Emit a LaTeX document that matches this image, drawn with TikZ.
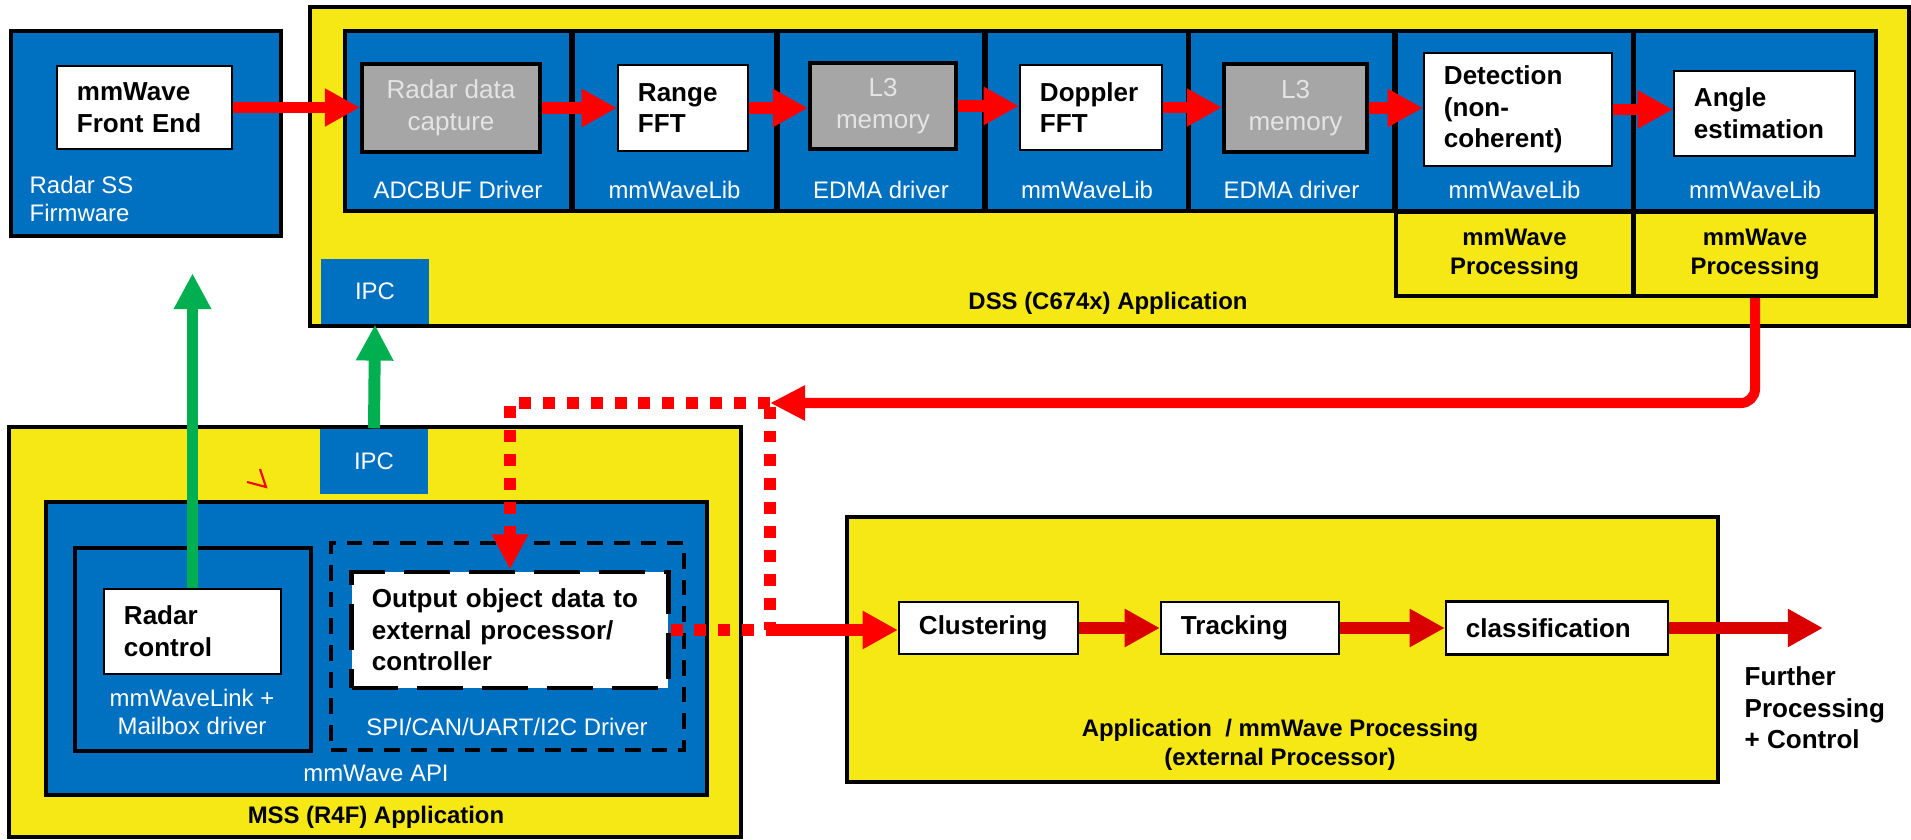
\documentclass[tikz,border=0pt]{standalone}
\usepackage{fontspec}
\setmainfont{Liberation Sans}
\usepackage{tikz}
\usetikzlibrary{arrows.meta,positioning}

\definecolor{tiblue}{RGB}{0,112,192}
\definecolor{tiyellow}{RGB}{246,232,20}
\definecolor{tigray}{RGB}{166,166,166}
\definecolor{capgray}{RGB}{228,228,228}
\definecolor{tigreen}{RGB}{0,176,80}
\definecolor{tired}{RGB}{255,0,0}
\definecolor{tidarkred}{RGB}{218,0,0}

\newcommand{\bxfont}{\bfseries\fontsize{7.4}{9}\selectfont}
\newcommand{\cpfont}{\fontsize{7.4}{9.1}\selectfont}
\newcommand{\lbfont}{\fontsize{6.8}{8.2}\selectfont}
\newcommand{\ttlfont}{\bfseries\fontsize{6.8}{8.2}\selectfont}

\begin{document}
\begin{tikzpicture}[x=0.01cm,y=-0.01cm,
  every node/.style={inner sep=0pt},
  bigbox/.style={draw,fill=tiyellow,line width=1.14pt},
  bluebox/.style={draw,fill=tiblue,line width=1.14pt},
  ipcbox/.style={fill=tiblue,text=white,font=\lbfont,minimum width=1.08cm,minimum height=0.65cm},
  wbox/.style={draw,fill=white,line width=0.6pt,align=left,inner xsep=0.2cm,font=\bxfont},
  gbox/.style={draw,fill=tigray,line width=1.14pt,align=center,text=capgray,font=\cpfont},
  procbox/.style={draw,fill=tiyellow,line width=1.14pt,align=center,font=\ttlfont},
  drvbox/.style={draw,dash pattern=on 4.5pt off 3.1pt,line width=1.14pt},
  lbl/.style={text=white,align=center,font=\lbfont},
  ttl/.style={align=center,font=\ttlfont},
  flow/.style={draw=tired,line width=3.4pt,-{Triangle[width=10.2pt,length=10pt]}},
  gflow/.style={draw=tigreen,line width=3.4pt,-{Triangle[width=10pt,length=10.2pt]}},
  fback/.style={draw=tired,line width=2.85pt,rounded corners=4pt,-{Triangle[width=9.4pt,length=10pt]}},
  dots/.style={draw=tired,line width=3.4pt,dash pattern=on 3.4pt off 3.4pt}]

  \useasboundingbox (0,0) rectangle (1911,840);

  % Radar sub-system
  \node[bluebox,minimum width=2.70cm,minimum height=2.05cm] (rss) at (146,133.5) {};
  \node[wbox,text width=1.35cm,minimum height=0.83cm] (fe) at (144.5,107.5) {mmWave\\Front End};
  \node[lbl,anchor=west,align=left] (rssL) at (29,199) {Radar SS\\Firmware};

  % DSS
  \node[bigbox,minimum width=15.99cm,minimum height=3.19cm] (dss) at (1109.5,166.5) {};
  \node[ipcbox] (ipcd) at (375,291.5) {IPC};
  \foreach \n/\x/\w/\lab in {adc/458/2.26/ADCBUF Driver, rngB/674.5/2.03/mmWaveLib,
      l3aB/881/2.06/EDMA driver, dopB/1087/2.02/mmWaveLib, l3bB/1291.5/2.05/EDMA driver,
      detB/1514.5/2.37/mmWaveLib, angB/1755/2.42/mmWaveLib} {
    \node[bluebox,minimum width=\w cm,minimum height=1.80cm] (\n) at (\x,121) {};
    \node[lbl] (\n-lbl) at (\x,190) {\lab};
  }
  \node[procbox,minimum width=2.37cm,minimum height=0.84cm] (detP) at (1514.5,254) {mmWave\\Processing};
  \node[procbox,minimum width=2.42cm,minimum height=0.84cm] (angP) at (1755,254) {mmWave\\Processing};
  \node[ttl] (dssL) at (1108,303) {DSS (C674x) Application};

  \node[gbox,minimum width=1.78cm,minimum height=0.88cm] (cap) at (451,108) {Radar data\\capture};
  \node[wbox,text width=0.90cm,minimum height=0.86cm] (rng) at (683,108) {Range\\FFT};
  \node[gbox,minimum width=1.46cm,minimum height=0.86cm] (l3a) at (883,106) {L3\\memory};
  \node[wbox,text width=1.02cm,minimum height=0.85cm] (dop) at (1091,107.5) {Doppler\\FFT};
  \node[gbox,minimum width=1.43cm,minimum height=0.88cm] (l3b) at (1295.5,108) {L3\\memory};
  \node[wbox,text width=1.48cm,minimum height=1.13cm] (det) at (1518,109.5) {Detection\\(non-\\coherent)};
  \node[wbox,text width=1.41cm,minimum height=0.85cm] (ang) at (1764.5,113.5) {Angle\\estimation};

  \foreach \a/\b in {fe/cap,cap/rng,rng/l3a,l3a/dop,dop/l3b,l3b/det,det/ang}
    \draw[flow] (\a.east) -- (\a.east -| \b.west);

  % MSS
  \node[bigbox,minimum width=7.32cm,minimum height=4.10cm] (mss) at (375,632) {};
  \node[ipcbox] (ipcm) at (374,461.5) {IPC};
  \node[bluebox,minimum width=6.61cm,minimum height=2.93cm] (api) at (376.5,648.5) {};
  \node[bluebox,minimum width=2.36cm,minimum height=2.03cm] (rcB) at (193,649.5) {};
  \node[wbox,text width=1.37cm,minimum height=0.85cm] (rc) at (192.5,631.5) {Radar\\control};
  \node[lbl] (rcL) at (192,712) {mmWaveLink +\\Mailbox driver};
  \node[drvbox,minimum width=3.53cm,minimum height=2.07cm] (drv) at (507.5,646.5) {};
  \node[wbox,dash pattern=on 13pt off 5.5pt,line width=1.4pt,text width=2.76cm,minimum height=1.16cm] (out) at (510,630)
    {Output object data to\\external processor/\\controller};
  \node[lbl] (drvL) at (507,727) {SPI/CAN/UART/I2C Driver};
  \node[lbl] (apiL) at (376,773) {mmWave API};
  \node[ttl] (mssL) at (376,817) {MSS (R4F) Application};
  \draw[tired,line width=0.6pt] (247,482) -- (266,487) -- (260,469);

  % External processor
  \node[bigbox,minimum width=8.71cm,minimum height=2.65cm] (app) at (1282.5,649.5) {};
  \node[wbox,text width=1.39cm,minimum height=0.52cm] (clu) at (988.5,628) {Clustering};
  \node[wbox,text width=1.38cm,minimum height=0.52cm] (trk) at (1250,628) {Tracking};
  \node[wbox,text width=1.82cm,minimum height=0.53cm] (cls) at (1557,628) {classification};
  \node[ttl] (appL) at (1280,744.5) {Application\ \ / mmWave Processing\\(external Processor)};
  \node[anchor=west,align=left,font=\bxfont] (fpc) at (1744,708) {Further\\Processing\\+ Control};
  \coordinate (fout) at (1823,628);

  \foreach \a/\b in {clu/trk,trk/cls}
    \draw[flow,draw=tidarkred] (\a.east) -- (\b.west);
  \draw[flow,draw=tidarkred] (cls.east) -- (fout);

  % Object data path
  \coordinate (jn) at (770,403);
  \draw[fback] (angP.south) |- (jn);
  \draw[dots,-{Triangle[width=9.7pt,length=10pt]}] (jn) -| (out.north);
  \draw[dots] (out.east) -| (jn);
  \draw[flow] (out.east -| jn) -- (out.east -| clu.west);

  % Control links
  \draw[gflow] (ipcm.north) -- (ipcd.south);
  \draw[gflow,shorten >=10pt] (rc.north) -- (rc.north |- rss.south);
\end{tikzpicture}
\end{document}
